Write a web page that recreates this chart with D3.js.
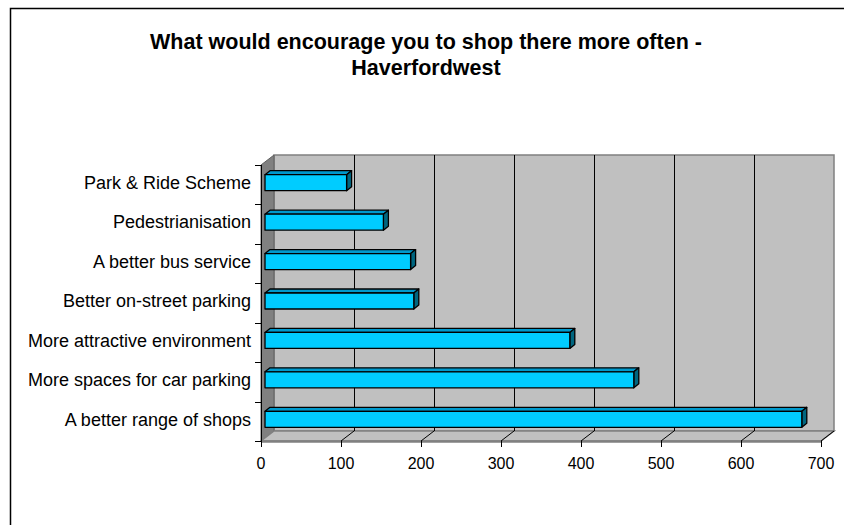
<!DOCTYPE html>
<html><head><meta charset="utf-8">
<script src="https://cdn.jsdelivr.net/npm/d3@7"></script>
<style>body{margin:0;background:#fff}svg{display:block}text{font-family:"Liberation Sans",Arial,sans-serif}</style>
</head><body>
<script>
const categories = ["A better range of shops","More spaces for car parking","More attractive environment","Better on-street parking","A better bus service","Pedestrianisation","Park & Ride Scheme"];
const values = [671, 461, 381, 186, 182, 148, 102];
const xTicks = [0,100,200,300,400,500,600,700];
const titleLines = ["What would encourage you to shop there more often -","Haverfordwest"];

(function(){
const W=844,H=525;
const svg=d3.select("body").append("svg").attr("width",W).attr("height",H);
svg.append("rect").attr("x",10.5).attr("y",8.5).attr("width",860).attr("height",540).attr("fill","#fff").attr("stroke","#000").attr("stroke-width",1.5);

const x=d3.scaleLinear().domain([0,700]).range([261,821]);
const y=d3.scaleBand().domain(categories).range([441,165]);
const DX=13, DY=-10;
const pTop=165, base=441;

// back wall
svg.append("rect").attr("x",x(0)+DX).attr("y",pTop+DY).attr("width",x(700)-x(0)).attr("height",base-pTop)
  .attr("fill","#c0c0c0").attr("stroke","#808080").attr("stroke-width",1.5);
// left wall
svg.append("polygon").attr("points",[[x(0),pTop],[x(0)+DX,pTop+DY],[x(0)+DX,base+DY],[x(0),base]].join(" "))
  .attr("fill","#808080").attr("stroke","#606060").attr("stroke-width",1);
// floor
svg.append("polygon").attr("points",[[x(0),base],[x(0)+DX,base+DY],[x(700)+DX,base+DY],[x(700),base]].join(" "))
  .attr("fill","#c0c0c0").attr("stroke","#808080").attr("stroke-width",1.5);
svg.append("line").attr("x1",x(0)).attr("x2",x(700)).attr("y1",base+0.5).attr("y2",base+0.5).attr("stroke","#808080").attr("stroke-width",2.5);

// gridlines on back wall and floor
const gt=xTicks.filter(d=>d>0&&d<700);
svg.selectAll(".g").data(gt).join("line").attr("x1",d=>Math.round(x(d)+DX)+0.5).attr("x2",d=>Math.round(x(d)+DX)+0.5)
  .attr("y1",pTop+DY).attr("y2",base+DY).attr("stroke","#000").attr("stroke-width",1);
svg.selectAll(".fg").data(xTicks.filter(d=>d>0)).join("line").attr("x1",d=>x(d)).attr("y1",base)
  .attr("x2",d=>x(d)+DX).attr("y2",base+DY).attr("stroke","#000").attr("stroke-width",1);

// left axis line
svg.append("line").attr("x1",x(0)+0.5).attr("x2",x(0)+0.5).attr("y1",pTop).attr("y2",base).attr("stroke","#000");
// category ticks
const bounds=d3.range(categories.length+1).map(i=>base-i*y.step());
svg.selectAll(".yt").data(bounds).join("line").attr("x1",x(0)-6).attr("x2",x(0)).attr("y1",d=>Math.round(d)+0.5).attr("y2",d=>Math.round(d)+0.5).attr("stroke","#000");
// x ticks
svg.selectAll(".xt").data(xTicks).join("line").attr("x1",d=>Math.round(x(d))+0.5).attr("x2",d=>Math.round(x(d))+0.5).attr("y1",base).attr("y2",base+6).attr("stroke","#000");
svg.selectAll(".xl").data(xTicks).join("text").attr("x",d=>x(d)).attr("y",base+28).attr("text-anchor","middle")
  .attr("font-size",16).attr("fill","#000").text(d=>d);

// bars
const bx=4, by=-3, bh=16, ddx=5, ddy=-4;
const g=svg.append("g").attr("stroke","#000").attr("stroke-width",1.3).attr("stroke-linejoin","round");
categories.forEach((c,i)=>{
  const v=values[i];
  const x0=x(0)+bx, x1=x(v)+bx;
  const yc=y(c)+y.bandwidth()/2+1+by;
  const y0=yc-bh/2, y1=yc+bh/2;
  g.append("polygon").attr("points",[[x0,y0],[x0+ddx,y0+ddy],[x1+ddx,y0+ddy],[x1,y0]].join(" ")).attr("fill","#0099cc");
  g.append("polygon").attr("points",[[x1,y0],[x1+ddx,y0+ddy],[x1+ddx,y1+ddy],[x1,y1]].join(" ")).attr("fill","#006680");
  g.append("rect").attr("x",x0).attr("y",y0).attr("width",x1-x0).attr("height",bh).attr("fill","#00ccff");
});

// category labels
svg.selectAll(".yl").data(categories).join("text").attr("x",251).attr("y",d=>y(d)+y.bandwidth()/2-2).attr("dy","0.35em")
  .attr("text-anchor","end").attr("font-size",18).attr("fill","#000").text(d=>d);

// title
svg.selectAll(".ti").data(titleLines).join("text").attr("x",426).attr("y",(d,i)=>49+i*26).attr("text-anchor","middle")
  .attr("font-size",21.5).attr("font-weight","bold").attr("fill","#000").text(d=>d);
})();
</script>
</body></html>
